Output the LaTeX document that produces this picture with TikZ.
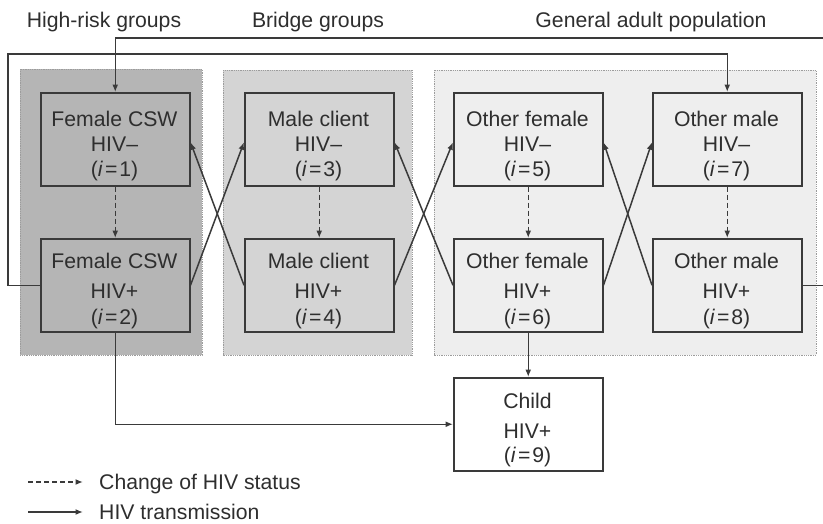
\documentclass[tikz,border=0pt]{standalone}
\usepackage{fontspec}
\setmainfont{Liberation Sans}
\usetikzlibrary{arrows.meta}

\definecolor{ink}{HTML}{3A3A3A}
\definecolor{txt}{HTML}{2E2E2E}
\definecolor{riskfill}{HTML}{B5B5B5}
\definecolor{bridgefill}{HTML}{D4D4D4}
\definecolor{genfill}{HTML}{EEEEEE}
\definecolor{panelline}{HTML}{9C9C9C}

\newcommand{\idx}[1]{(\textit{i}\kern2pt=\kern2pt#1)}

\begin{document}
\begin{tikzpicture}[x=1pt,y=-1pt,
  every node/.style={text=txt, font=\fontsize{21.2}{25}\selectfont},
  panel/.style={draw=panelline, densely dotted, line width=0.8pt},
  statebox/.style={draw=ink, line width=1.5pt, minimum width=149pt,
    minimum height=93pt, inner sep=0pt, anchor=north west},
  boxtext/.style={anchor=north, inner sep=0pt, align=center},
  trans/.style={draw=ink, line width=1.5pt, -{Latex[length=7.5pt,width=6pt]}},
  chg/.style={trans, dash pattern=on 5pt off 3pt},
]
\useasboundingbox (0,0) rectangle (823,523);
\clip (0,0) rectangle (823,523);

% group panels
\filldraw[fill=riskfill, panel] (20,69) rectangle (202,355);
\filldraw[fill=bridgefill, panel] (223,70) rectangle (412,355);
\filldraw[fill=genfill, panel] (434,70) rectangle (816,355);

% group headings
\node[anchor=base] (h1) at (104,27) {High-risk groups};
\node[anchor=base] (h2) at (318,27) {Bridge groups};
\node[anchor=base] (h3) at (651,27) {General adult population};

% compartments
\node[statebox] (b1) at (40,92) {};
\node[statebox] (b2) at (40,238) {};
\node[statebox] (b3) at (244,92) {};
\node[statebox] (b4) at (244,238) {};
\node[statebox] (b5) at (453,92) {};
\node[statebox] (b6) at (453,238) {};
\node[statebox] (b7) at (652,92) {};
\node[statebox] (b8) at (652,238) {};
\node[statebox, fill=white] (b9) at (453,377) {};

% compartment labels
\node[boxtext] (t1) at (114.5,110.5) {\rule{0pt}{16pt}Female CSW\\ HIV–\\ \idx{1}};
\node[boxtext] (t3) at (318.5,110.5) {\rule{0pt}{16pt}Male client\\ HIV–\\ \idx{3}};
\node[boxtext] (t5) at (527.5,110.5) {\rule{0pt}{16pt}Other female\\ HIV–\\ \idx{5}};
\node[boxtext] (t7) at (726.5,110.5) {\rule{0pt}{16pt}Other male\\ HIV–\\ \idx{7}};
\node[boxtext] (t2) at (114.5,252) {\rule{0pt}{16pt}Female CSW\\[5pt] HIV+\\[1pt] \idx{2}};
\node[boxtext] (t4) at (318.5,252) {\rule{0pt}{16pt}Male client\\[5pt] HIV+\\[1pt] \idx{4}};
\node[boxtext] (t6) at (527.5,252) {\rule{0pt}{16pt}Other female\\[5pt] HIV+\\[1pt] \idx{6}};
\node[boxtext] (t8) at (726.5,252) {\rule{0pt}{16pt}Other male\\[5pt] HIV+\\[1pt] \idx{8}};
\node[boxtext] (t9) at (527.5,392) {\rule{0pt}{16pt}Child\\[5pt] HIV+\\[-1pt] \idx{9}};

% change of HIV status
\draw[chg] (b1.south) -- (b2.north);
\draw[chg] (b3.south) -- (b4.north);
\draw[chg] (b5.south) -- (b6.north);
\draw[chg] (b7.south) -- (b8.north);

% transmission between neighbouring groups
\draw[trans] (b2.east) -- ([yshift=-3pt]b3.west);
\draw[trans] (b4.west) -- ([yshift=-3pt]b1.east);
\draw[trans] (b4.east) -- ([yshift=-3pt]b5.west);
\draw[trans] (b6.west) -- ([yshift=-3pt]b3.east);
\draw[trans] (b6.east) -- ([yshift=-3pt]b7.west);
\draw[trans] (b8.west) -- ([yshift=-3pt]b5.east);

% long-range transmission loops
\coordinate (loopL) at (8,54);
\coordinate (loopR) at (835,38);
\draw[trans] (b2.west) -| (loopL) -| (b7.north);
\draw[trans] (b8.east) -| (loopR) -| (b1.north);

% mother-to-child transmission
\draw[trans] (b6.south) -- (b9.north);
\draw[trans] (b2.south) |- (b9.west);

% legend
\coordinate (lg1a) at (28,482);
\coordinate (lg1b) at (83,482);
\coordinate (lg2a) at (28,512);
\coordinate (lg2b) at (83,512);
\draw[chg] (lg1a) -- (lg1b);
\draw[trans] (lg2a) -- (lg2b);
\node[anchor=base west, inner sep=0pt] (lg1) at (99,489) {Change of HIV status};
\node[anchor=base west, inner sep=0pt] (lg2) at (99,519) {HIV transmission};
\end{tikzpicture}
\end{document}
